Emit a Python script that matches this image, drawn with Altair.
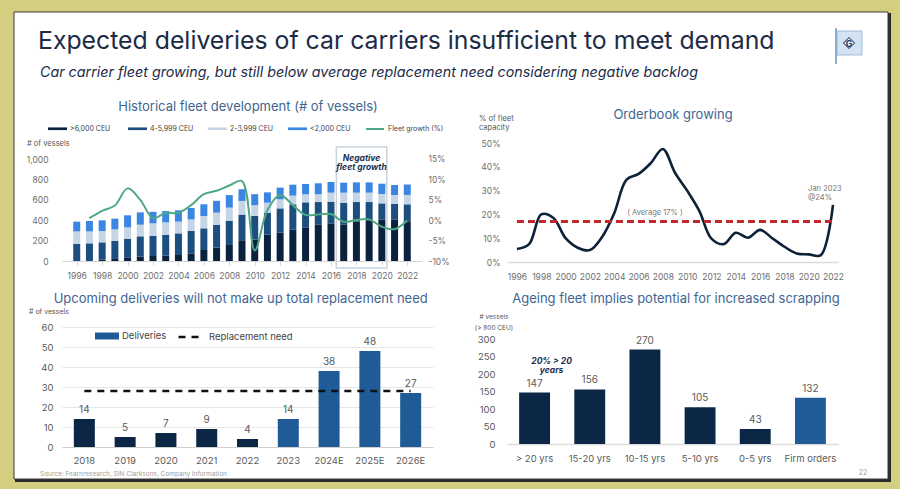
import altair as alt
import pandas as pd

FONT = "Inter"

# ---------------- data ----------------
years = list(range(1996, 2023))
ceu_over_6000 = [0, 0, 13, 20, 36, 42, 49, 52, 59, 75, 108, 131, 157, 197, 210, 260, 280, 310, 330, 355, 369, 355, 386, 400, 408, 408, 390]
ceu_4000_5999 = [167, 173, 170, 176, 183, 200, 199, 203, 212, 219, 212, 222, 238, 258, 233, 214, 236, 246, 245, 223, 213, 217, 192, 178, 157, 151, 166]
ceu_2000_3999 = [123, 117, 111, 114, 111, 114, 121, 124, 115, 114, 121, 121, 128, 134, 104, 98, 89, 85, 79, 76, 88, 98, 92, 92, 92, 88, 92]
ceu_under_2000 = [96, 102, 105, 105, 118, 121, 113, 111, 111, 112, 115, 116, 123, 115, 108, 101, 115, 107, 101, 108, 105, 98, 101, 101, 101, 98, 102]
segment_names = [">6,000 CEU", "4-5,999 CEU", "2-3,999 CEU", "<2,000 CEU"]
growth_years = list(range(1997, 2023))
fleet_growth_pct = [0.5, 2.3, 3.6, 7.8, 5.0, 0.5, 1.8, 1.8, 3.7, 6.4, 7.2, 8.5, 9.6, -7.4, 2.5, 6.2, 3.7, 1.3, 1.4, 1.5, -0.4, 0.05, 0.2, -1.6, -2.2, -0.1]
negative_growth_span = [2016.42, 2020.39]

orderbook_pct = [5.5, 7.5, 20.0, 18.5, 10.0, 6.0, 5.0, 10.5, 20.5, 34.5, 37.0, 41.5, 47.5, 37.5, 30.0, 21.5, 9.8, 7.5, 12.3, 10.2, 13.5, 10.0, 6.4, 3.6, 3.2, 2.9, 24.0]
orderbook_average = 17

delivery_years = ["2018", "2019", "2020", "2021", "2022", "2023", "2024E", "2025E", "2026E"]
deliveries = [14, 5, 7, 9, 4, 14, 38, 48, 27]
delivery_kind = ["Historical"] * 5 + ["Deliveries"] * 4
replacement_need = 28

age_groups = ["> 20 yrs", "15-20 yrs", "10-15 yrs", "5-10 yrs", "0-5 yrs", "Firm orders"]
vessel_counts = [147, 156, 270, 105, 43, 132]

# ---------------- styles ----------------
NAVY = "#0c2746"
BLUE = "#1f5b97"
TITLE_BLUE = "#3f6592"
INK = "#1c2b46"
LABEL = "#6e6e6e"
SEG_COLORS = ["#0b223f", "#1c4e7f", "#c6d5e6", "#3a86e2"]

one = pd.DataFrame({"k": [0]})


def deco_rect(x, y, x2, y2, **kw):
    return alt.Chart(one).mark_rect(**kw).encode(
        x=alt.value(x), x2=alt.value(x2), y=alt.value(y), y2=alt.value(y2))


def deco_text(text, x, y, **kw):
    base = dict(font=FONT, align="left", baseline="middle")
    base.update(kw)
    return alt.Chart(one).mark_text(text=text, **base).encode(x=alt.value(x), y=alt.value(y))


# ---------------- top-left: fleet development ----------------
TL_W, TL_H = 360, 118
rows = []
for i, yr in enumerate(years):
    for k, arr in enumerate([ceu_over_6000, ceu_4000_5999, ceu_2000_3999, ceu_under_2000]):
        rows.append({"year": yr, "segment": segment_names[k], "rank": k, "vessels": arr[i]})
fleet_df = pd.DataFrame(rows)
growth_df = pd.DataFrame({"year": growth_years, "growth": fleet_growth_pct, "series": "Fleet growth (%)"})
box_df = pd.DataFrame({"x0": [negative_growth_span[0]], "x1": [negative_growth_span[1]], "y0": [-69], "y1": [1118]})

tl_x = alt.Scale(domain=[1995.235, 2022.765], nice=False, zero=False)
tl_yl = alt.Scale(domain=[0, 1157], nice=False, zero=False)
tl_yr = alt.Scale(domain=[-10, 18.92], nice=False, zero=False)
tl_xaxis = alt.Axis(title=None, values=list(range(1996, 2023, 2)), format="d", grid=False,
                    domainColor="#d4d4d4", tickColor="#d4d4d4", tickSize=4, labelFontSize=8.5,
                    labelColor=LABEL, labelPadding=6, labelFlush=False, labelOverlap=False, zindex=1)
tl_ylaxis = alt.Axis(title=None, values=[0, 200, 400, 600, 800, 1000], format=",.0f", grid=False,
                     domain=False, ticks=False, labelFontSize=8.5, labelColor=LABEL,
                     labelPadding=14, labelOverlap=False, zindex=1)

tl_box = alt.Chart(box_df).mark_rect(fillOpacity=0, stroke="#c9d3de", strokeWidth=1.5).encode(
    x=alt.X("x0:Q", scale=tl_x, axis=tl_xaxis), x2="x1:Q",
    y=alt.Y("y0:Q", scale=tl_yl, axis=tl_ylaxis), y2="y1:Q")

tl_bars = alt.Chart(fleet_df).mark_bar(size=7).encode(
    x=alt.X("year:Q", scale=tl_x, axis=tl_xaxis),
    y=alt.Y("vessels:Q", stack="zero", scale=tl_yl, axis=tl_ylaxis),
    color=alt.Color("segment:N", scale=alt.Scale(domain=segment_names, range=SEG_COLORS),
                    legend=alt.Legend(title=None, orient="none", legendX=-14, legendY=-24,
                                      direction="horizontal", symbolType="M-1,-0.14H1V0.14H-1Z",
                                      symbolSize=361, symbolStrokeWidth=0, labelFontSize=7,
                                      labelColor="#444", labelFont=FONT, columnPadding=14,
                                      gridAlign="all", labelOffset=3)),
    order=alt.Order("rank:Q", sort="ascending"),
)

tl_boxtext = alt.Chart(one).mark_text(
    text=["Negative", "fleet growth"], font=FONT, fontStyle="italic", fontWeight="bold",
    fontSize=8.5, color="#1a3050", lineHeight=9.5, baseline="middle").encode(
    x=alt.XDatum(2018.4, scale=tl_x, axis=tl_xaxis),
    y=alt.YDatum(1010, scale=tl_yl, axis=tl_ylaxis))

tl_line = alt.Chart(growth_df).mark_line(interpolate="catmull-rom", strokeWidth=2).encode(
    x=alt.X("year:Q", scale=tl_x, axis=tl_xaxis),
    y=alt.Y("growth:Q", scale=tl_yr,
            axis=alt.Axis(orient="right", title=None, values=[-10, -5, 0, 5, 10, 15],
                          labelExpr="datum.value + '%'", grid=False, domain=False, ticks=False,
                          labelFontSize=8.5, labelColor=LABEL, labelPadding=6,
                          labelOverlap=False, zindex=1)),
    stroke=alt.Stroke("series:N", scale=alt.Scale(range=["#4ea884"]),
                      legend=alt.Legend(title=None, orient="none", legendX=303, legendY=-24,
                                        symbolType="stroke", symbolSize=324, symbolStrokeWidth=2,
                                        labelFontSize=7, labelColor="#444", labelFont=FONT,
                                        labelOffset=3)),
)

# slide decoration drawn from the first panel (origin of this panel = (62, 143))
OX, OY = 62, 143
decor = [
    deco_rect(-OX, -OY, 900 - OX, 489 - OY, color="#d3ce80"),
    deco_rect(15 - OX, 13 - OY, 891 - OX, 482 - OY, color="#2b2b2b"),
    deco_rect(14 - OX, 12 - OY, 888 - OX, 479 - OY, color="#ffffff", stroke="#3a3a3a", strokeWidth=1),
    deco_text("Expected deliveries of car carriers insufficient to meet demand", 38 - OX, 42 - OY,
              fontSize=24.8, color=INK),
    deco_text("Car carrier fleet growing, but still below average replacement need considering negative backlog",
              40 - OX, 73 - OY, fontSize=14.3, fontStyle="italic", color=INK),
    deco_text("Source: Fearnresearch, SIN Clarksons, Company Information", 40 - OX, 474 - OY,
              fontSize=6.5, color="#a0a0a0"),
    deco_text("22", 863 - OX, 473 - OY, fontSize=7, color="#a0a0a0", align="center"),
    # logo
    deco_rect(837 - OX, 31 - OY, 862 - OX, 55 - OY, color="#d3e3f3", stroke="#8aaed0", strokeWidth=0.8),
    deco_rect(835 - OX, 28 - OY, 837 - OX, 64 - OY, color="#8aaed0"),
    alt.Chart(one).mark_point(shape="diamond", size=120, filled=True, color="#ffffff",
                              stroke="#1c3a66", strokeWidth=1.2).encode(
        x=alt.value(849 - OX), y=alt.value(43 - OY)),
    deco_text("G", 849 - OX, 43.5 - OY, fontSize=8.5, fontWeight="bold", color="#1c3a66", align="center"),
    # panel texts
    deco_text("Historical fleet development (# of vessels)", 186, -36, fontSize=13,
              color=TITLE_BLUE, align="center"),
    deco_text("# of vessels", -35, 1, fontSize=7.5, color="#555"),
]

tl = alt.layer(*decor, alt.layer(tl_box, tl_bars, tl_boxtext), tl_line).resolve_scale(
    y="independent").properties(width=TL_W, height=TL_H)

# ---------------- top-right: orderbook ----------------
TR_W, TR_H = 331, 119
ob_df = pd.DataFrame({"year": years, "pct": orderbook_pct})
tr_x = alt.Scale(domain=[1995.18, 2022.41], nice=False, zero=False)
tr_y = alt.Scale(domain=[0, 50], nice=False)
tr_xaxis = alt.Axis(title=None, values=list(range(1996, 2023, 2)), format="d", grid=False, ticks=False,
                    domainColor="#dcdcdc", domainWidth=1.5, labelFontSize=8.5, labelColor=LABEL,
                    labelPadding=10, labelFlush=False, labelOverlap=False)
tr_yaxis = alt.Axis(title=None, values=[0, 10, 20, 30, 40, 50], labelExpr="datum.value + '%'",
                    grid=False, domain=False, ticks=False, labelFontSize=8.5, labelColor=LABEL,
                    labelPadding=7, labelOverlap=False)
tr_line = alt.Chart(ob_df).mark_line(interpolate="catmull-rom", color="#0d2238", strokeWidth=2.6).encode(
    x=alt.X("year:Q", scale=tr_x, axis=tr_xaxis), y=alt.Y("pct:Q", scale=tr_y, axis=tr_yaxis))
tr_avg = alt.Chart(one).mark_rule(color="#c0282e", strokeDash=[7, 4], strokeWidth=3).encode(
    x=alt.XDatum(years[0], scale=tr_x, axis=tr_xaxis), x2=alt.X2Datum(years[-1]),
    y=alt.YDatum(orderbook_average, scale=tr_y, axis=tr_yaxis))


def tr_note(text, xv, yv, **kw):
    return alt.Chart(one).mark_text(text=text, font=FONT, fontSize=7.5, color="#777", **kw).encode(
        x=alt.XDatum(xv, scale=tr_x, axis=tr_xaxis), y=alt.YDatum(yv, scale=tr_y, axis=tr_yaxis))


tr = alt.layer(
    deco_text("Orderbook growing", 166, -28, fontSize=13, color=TITLE_BLUE, align="center"),
    deco_text("% of fleet", -28, -24, fontSize=7.5, color="#555"),
    deco_text("capacity", -28, -15, fontSize=7.5, color="#555"),
    tr_line, tr_avg,
    tr_note("( Average 17% )", 2007.35, 20.5),
    tr_note("Jan 2023", 2019.95, 30.5, align="left"),
    tr_note("@24%", 2019.95, 26.8, align="left"),
).properties(width=TR_W, height=TR_H)

# ---------------- bottom-left: deliveries ----------------
BL_W, BL_H = 371, 120
bl_df = pd.DataFrame({"year": delivery_years, "vessels": deliveries, "kind": delivery_kind})
rep_df = pd.DataFrame({"year": [delivery_years[0], delivery_years[-1]],
                       "vessels": [replacement_need, replacement_need], "series": "Replacement need"})
bl_x = alt.Scale(domain=delivery_years, paddingInner=0.485, paddingOuter=0.29)
bl_xaxis = alt.Axis(title=None, labelAngle=0, ticks=False, domainColor="#cfcfcf", labelFontSize=9.5,
                    labelColor="#5a5a5a", labelPadding=8)
bl_y = alt.Scale(domain=[0, 60], nice=False)
bl_yaxis = alt.Axis(title=None, values=[0, 10, 20, 30, 40, 50, 60], grid=True, gridColor="#e6e6e6",
                    domain=False, ticks=False, labelFontSize=9.5, labelColor="#5a5a5a", labelPadding=9,
                    labelOverlap=False)
bl_bars = alt.Chart(bl_df).mark_bar().encode(
    x=alt.X("year:N", sort=delivery_years, scale=bl_x, axis=bl_xaxis),
    y=alt.Y("vessels:Q", scale=bl_y, axis=bl_yaxis),
    color=alt.Color("kind:N", scale=alt.Scale(domain=["Deliveries", "Historical"], range=[BLUE, NAVY]),
                    legend=alt.Legend(title=None, values=["Deliveries"], orient="none", legendX=33,
                                      legendY=-3, symbolType="M-1,-0.29H1V0.29H-1Z", symbolSize=576,
                                      symbolStrokeWidth=0, labelFontSize=9.5, labelColor="#444",
                                      labelFont=FONT, labelOffset=3)),
)
bl_lbl = alt.Chart(bl_df).mark_text(dy=-9, font=FONT, fontSize=10, color="#5a5a5a").encode(
    x=alt.X("year:N", sort=delivery_years, scale=bl_x, axis=bl_xaxis),
    y=alt.Y("vessels:Q", scale=bl_y, axis=bl_yaxis), text="vessels:Q")
bl_rep = alt.Chart(rep_df).mark_line(color="#111111", strokeWidth=2.5).encode(
    x=alt.X("year:N", sort=delivery_years, scale=bl_x, axis=bl_xaxis),
    y=alt.Y("vessels:Q", scale=bl_y, axis=bl_yaxis),
    strokeDash=alt.StrokeDash("series:N", scale=alt.Scale(range=[[7, 6]]),
                              legend=alt.Legend(title=None, orient="none", legendX=115, legendY=-4,
                                                symbolType="stroke", symbolSize=625,
                                                symbolStrokeWidth=2.5, symbolStrokeColor="#111111",
                                                labelFontSize=9.5, labelColor="#444", labelFont=FONT,
                                                labelOffset=4)),
)
bl = alt.layer(
    deco_text("Upcoming deliveries will not make up total replacement need", 178.7, -28, fontSize=13,
              color=TITLE_BLUE, align="center"),
    deco_text("# of vessels", -33, -15, fontSize=7, color="#555"),
    bl_bars, bl_rep, bl_lbl,
).properties(width=BL_W, height=BL_H)

# ---------------- bottom-right: ageing fleet ----------------
BR_W, BR_H = 331, 117
br_df = pd.DataFrame({"age": age_groups, "vessels": vessel_counts})
br_x = alt.Scale(domain=age_groups, paddingInner=0.44, paddingOuter=0.22)
br_xaxis = alt.Axis(title=None, labelAngle=0, ticks=False, domainColor="#dcdcdc", domainWidth=1.5,
                    labelFontSize=9.5, labelColor="#5a5a5a", labelPadding=9)
br_y = alt.Scale(domain=[0, 334.3], nice=False)
br_yaxis = alt.Axis(title=None, values=[0, 50, 100, 150, 200, 250, 300], grid=False, domain=False,
                    ticks=False, labelFontSize=9.5, labelColor="#5a5a5a", labelPadding=12,
                    labelOverlap=False)
br_bars = alt.Chart(br_df).mark_bar().encode(
    x=alt.X("age:N", sort=age_groups, scale=br_x, axis=br_xaxis),
    y=alt.Y("vessels:Q", scale=br_y, axis=br_yaxis),
    color=alt.condition(alt.datum.age == "Firm orders", alt.value(BLUE), alt.value(NAVY)),
)
br_lbl = alt.Chart(br_df).mark_text(dy=-9, font=FONT, fontSize=10, color="#5a5a5a").encode(
    x=alt.X("age:N", sort=age_groups, scale=br_x, axis=br_xaxis),
    y=alt.Y("vessels:Q", scale=br_y, axis=br_yaxis), text="vessels:Q")
br_note = alt.Chart(one).mark_text(text=["20% > 20", "years"], font=FONT, fontStyle="italic",
                                   fontWeight="bold", fontSize=8.5, color="#1a3050", lineHeight=9,
                                   baseline="middle", dx=17).encode(
    x=alt.XDatum(age_groups[0], type="nominal", scale=br_x, axis=br_xaxis),
    y=alt.YDatum(236, scale=br_y, axis=br_yaxis))
br = alt.layer(
    deco_text("Ageing fleet implies potential for increased scrapping", 169, -28, fontSize=13,
              color=TITLE_BLUE, align="center"),
    deco_text("# vessels", -13, -10, fontSize=6.5, color="#555", align="center"),
    deco_text("(> 800 CEU)", -13, 1, fontSize=6.5, color="#555", align="center"),
    br_bars, br_lbl, br_note,
).properties(width=BR_W, height=BR_H)

chart = alt.concat(tl, tr, bl, br, columns=2, spacing={"row": 65, "column": 74},
                   bounds="flush").resolve_scale(
    color="independent", stroke="independent", strokeDash="independent"
).resolve_legend(
    color="independent", stroke="independent", strokeDash="independent"
).properties(
    padding=0, background="#d3ce80"
).configure(font=FONT).configure_view(stroke=None)

chart.save("out.html", embed_options={"renderer": "svg", "actions": False})
